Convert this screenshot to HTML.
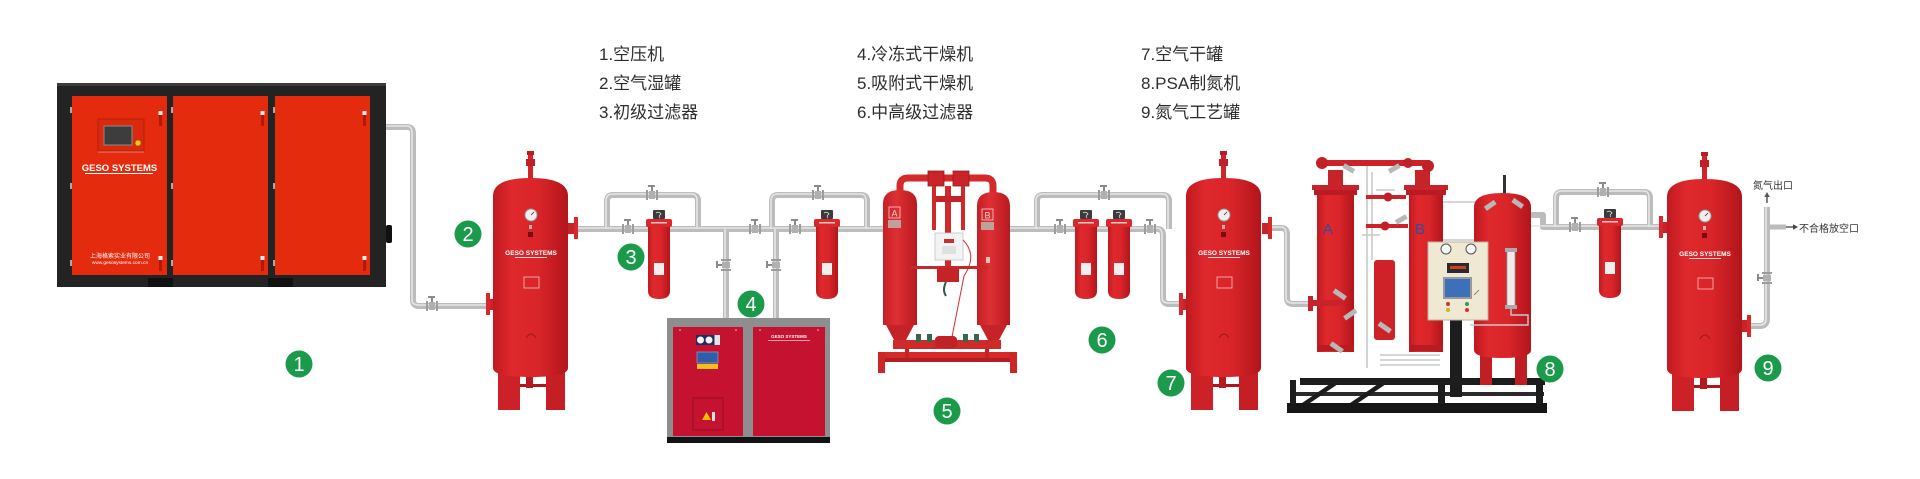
<!DOCTYPE html>
<html>
<head>
<meta charset="utf-8">
<style>
html,body{margin:0;padding:0;background:#fff;width:1920px;height:479px;overflow:hidden}
svg{display:block}
text{font-family:"Liberation Sans","Noto Sans CJK SC",sans-serif;}
</style>
</head>
<body>
<svg width="1920" height="479" viewBox="0 0 1920 479" xmlns="http://www.w3.org/2000/svg">
<defs>
  <linearGradient id="tk" x1="0" x2="1" y1="0" y2="0">
    <stop offset="0" stop-color="#bf1a20"/>
    <stop offset="0.25" stop-color="#de282c"/>
    <stop offset="0.6" stop-color="#d92529"/>
    <stop offset="1" stop-color="#b2151b"/>
  </linearGradient>
  <linearGradient id="tk2" x1="0" x2="1" y1="0" y2="0">
    <stop offset="0" stop-color="#c42026"/>
    <stop offset="0.4" stop-color="#dd3033"/>
    <stop offset="1" stop-color="#b8191f"/>
  </linearGradient>

  <!-- receiver tank, width 75, dome top at y=0 -->
  <g id="tank">
    <rect x="35" y="-25" width="5" height="26" fill="#cf2429"/>
    <rect x="33" y="-19" width="9" height="7" fill="#c21f25"/>
    <rect x="34" y="-27" width="7" height="4" fill="#b81d22"/>
    <rect x="5" y="192" width="22" height="40" fill="#cc2127"/>
    <rect x="53" y="192" width="19" height="40" fill="#c51f25"/>
    <rect x="27" y="206" width="26" height="3" fill="#a9161c"/>
    <rect x="33" y="198" width="7" height="12" fill="#b51a20"/>
    <path d="M0 18 Q0 0 37.5 0 Q75 0 75 18 V190 Q75 199 37.5 199 Q0 199 0 190 Z" fill="url(#tk)"/>
    <circle cx="38" cy="37" r="6" fill="#eee" stroke="#999" stroke-width="1"/>
    <line x1="38" y1="37" x2="41" y2="34" stroke="#333" stroke-width="0.8"/>
    <rect x="36" y="47" width="3" height="4" fill="#f3b0b0"/>
    <rect x="35" y="54" width="5" height="5" fill="#7a0c10"/>
    <text x="38" y="77" font-size="6.5" font-weight="bold" fill="#fff" text-anchor="middle">GESO SYSTEMS</text>
    <rect x="22" y="79" width="32" height="0.8" fill="#fff"/>
    <rect x="31" y="99" width="15" height="11" fill="none" stroke="#f3c0c0" stroke-width="0.8"/>
    <path d="M33 160 Q38 152 43 160" fill="none" stroke="#a0161a" stroke-width="1"/>
  </g>

  <!-- filter, width 26, height 88 -->
  <g id="filt">
    <rect x="7" y="0" width="12" height="9" rx="1" fill="#3b3b3b"/>
    <path d="M10 3 Q13 1 15 4 Q12 6 14 8" fill="none" stroke="#ddd" stroke-width="0.8"/>
    <rect x="0" y="9" width="26" height="8" rx="2" fill="#d9272c"/>
    <rect x="5" y="12" width="16" height="1.5" fill="#f4c8c8"/>
    <path d="M2 17 H24 V81 Q24 89 13 89 Q2 89 2 81 Z" fill="url(#tk)"/>
    <rect x="8" y="53" width="10" height="12" fill="#f4eeee"/>
  </g>

  <!-- inline pipe valve (horizontal pipe) -->
  <g id="vh">
    <rect x="-6" y="-5" width="2" height="10" fill="#9c9c9c"/>
    <rect x="4" y="-5" width="2" height="10" fill="#9c9c9c"/>
    <rect x="-3" y="-4" width="6" height="8" fill="#b0b0b0"/>
    <rect x="-1" y="-9" width="2" height="5" fill="#8a8a8a"/>
    <rect x="-4" y="-10" width="7" height="2" fill="#8a8a8a"/>
  </g>
  <g id="vv">
    <rect x="-5" y="-6" width="10" height="2" fill="#9c9c9c"/>
    <rect x="-5" y="4" width="10" height="2" fill="#9c9c9c"/>
    <rect x="-4" y="-3" width="8" height="6" fill="#b0b0b0"/>
    <rect x="-9" y="-1" width="5" height="2" fill="#8a8a8a"/>
    <rect x="-10" y="-4" width="2" height="7" fill="#8a8a8a"/>
  </g>
</defs>

<!-- ================= PIPES ================= -->
<g fill="none" stroke="#bcbcbc" stroke-width="6" stroke-linejoin="round">
  <path d="M386 127 H407 Q413 127 413 133 V300 Q413 306 419 306 H490"/>
  <path d="M578 229 H886"/>
  <path d="M607 229 V201 Q607 195 613 195 H692 Q698 195 698 201 V229"/>
  <path d="M772 229 V201 Q772 195 778 195 H861 Q867 195 867 201 V229"/>
  <path d="M726 229 V318"/>
  <path d="M776 229 V318"/>
  <path d="M1008 229 H1157 Q1163 229 1163 235 V298 Q1163 304 1169 304 H1180"/>
  <path d="M1037 229 V201 Q1037 195 1043 195 H1163 Q1169 195 1169 201 V229"/>
  <path d="M1270 228 H1281 Q1287 228 1287 234 V298 Q1287 304 1293 304 H1312"/>
  <path d="M1530 215 H1543 V227 H1660"/>
  <path d="M1556 227 V198 Q1556 192 1562 192 H1644 Q1650 192 1650 198 V227"/>
  <path d="M1750 326 H1760 Q1767 326 1767 319 V207"/>
  <path d="M1767 227 H1786" stroke-width="5"/>
</g>
<g fill="none" stroke="#e6e6e6" stroke-width="1.6" stroke-linejoin="round">
  <path d="M386 126 H407 Q412 126 412 133 V300 Q412 305 419 305 H490"/>
  <path d="M578 228 H886"/>
  <path d="M606 229 V201 Q606 194 613 194 H692 Q697 194 697 201 V229"/>
  <path d="M771 229 V201 Q771 194 778 194 H861 Q866 194 866 201 V229"/>
  <path d="M725 229 V318"/>
  <path d="M775 229 V318"/>
  <path d="M1008 228 H1157 Q1162 228 1162 235 V298 Q1162 303 1169 303 H1180"/>
  <path d="M1036 229 V201 Q1036 194 1043 194 H1163 Q1168 194 1168 201 V229"/>
  <path d="M1270 227 H1281 Q1286 227 1286 234 V298 Q1286 303 1293 303 H1312"/>
  <path d="M1530 226 H1660"/>
  <path d="M1555 227 V198 Q1555 191 1562 191 H1644 Q1649 191 1649 198 V227"/>
  <path d="M1750 325 H1760 Q1766 325 1766 319 V207"/>
</g>
<!-- valves -->
<use href="#vh" x="432" y="306"/>
<use href="#vh" x="628" y="229"/>
<use href="#vh" x="652" y="195"/>
<use href="#vh" x="755" y="229"/>
<use href="#vh" x="795" y="229"/>
<use href="#vh" x="818" y="195"/>
<use href="#vv" x="726" y="265"/>
<use href="#vv" x="776" y="265"/>
<use href="#vh" x="1060" y="229"/>
<use href="#vh" x="1104" y="195"/>
<use href="#vh" x="1150" y="229"/>
<use href="#vh" x="1575" y="227"/>
<use href="#vh" x="1603" y="192"/>
<use href="#vv" x="1767" y="278"/>

<!-- arrows & outlet labels -->
<line x1="1786" y1="227" x2="1794" y2="227" stroke="#444" stroke-width="1.3"/>
<polygon points="1798,227 1793,224.3 1793,229.7" fill="#444"/>
<line x1="1767" y1="203" x2="1767" y2="196" stroke="#555" stroke-width="1.5"/>
<polygon points="1767,192 1764.3,197 1769.7,197" fill="#555"/>
<text x="1753" y="189" font-size="10" fill="#333">氮气出口</text>
<text x="1799" y="232" font-size="10" fill="#333">不合格放空口</text>

<!-- ================= COMPRESSOR ================= -->
<rect x="57" y="83" width="329" height="204" fill="#232323"/>
<rect x="57" y="83" width="329" height="3" fill="#3c3c3c"/>
<rect x="72" y="96" width="95" height="179" fill="#e52b0e"/>
<rect x="173" y="96" width="95" height="179" fill="#e52b0e"/>
<rect x="275" y="96" width="95" height="179" fill="#e52b0e"/>
<rect x="148" y="278" width="25" height="9" fill="#111"/>
<rect x="268" y="278" width="25" height="9" fill="#111"/>
<g fill="#aaa">
  <rect x="70" y="107" width="2" height="6"/><rect x="70" y="183" width="2" height="6"/><rect x="70" y="260" width="2" height="6"/>
  <rect x="171" y="107" width="2" height="6"/><rect x="171" y="183" width="2" height="6"/><rect x="171" y="260" width="2" height="6"/>
  <rect x="273" y="107" width="2" height="6"/><rect x="273" y="183" width="2" height="6"/><rect x="273" y="260" width="2" height="6"/>
</g>
<g>
  <rect x="159" y="112" width="3" height="14" fill="#b01a08"/><rect x="158.5" y="111" width="4" height="4" fill="#eee"/>
  <rect x="159" y="257" width="3" height="14" fill="#b01a08"/><rect x="158.5" y="256" width="4" height="4" fill="#eee"/>
  <rect x="261" y="112" width="3" height="14" fill="#b01a08"/><rect x="260.5" y="111" width="4" height="4" fill="#eee"/>
  <rect x="261" y="257" width="3" height="14" fill="#b01a08"/><rect x="260.5" y="256" width="4" height="4" fill="#eee"/>
  <rect x="363" y="112" width="3" height="14" fill="#b01a08"/><rect x="362.5" y="111" width="4" height="4" fill="#eee"/>
  <rect x="363" y="257" width="3" height="14" fill="#b01a08"/><rect x="362.5" y="256" width="4" height="4" fill="#eee"/>
</g>
<rect x="98" y="119" width="46" height="32" fill="#d9290f" stroke="#b51f09" stroke-width="1"/>
<rect x="104" y="126" width="28" height="19" fill="#3d3d3d" stroke="#8a8a8a" stroke-width="1"/>
<circle cx="138" cy="143" r="3" fill="#f2c21a" stroke="#9a5a00" stroke-width="0.6"/>
<line x1="98" y1="152" x2="144" y2="152" stroke="#f5a090" stroke-width="0.8"/>
<text x="119.5" y="171" font-size="9.5" font-weight="bold" fill="#fff" text-anchor="middle">GESO SYSTEMS</text>
<rect x="85" y="173" width="68" height="1" fill="#fff"/>
<text x="120" y="258" font-size="6" fill="#fff" text-anchor="middle">上海格索实业有限公司</text>
<text x="120" y="264" font-size="4.8" fill="#fff" text-anchor="middle">www.gesosystems.com.cn</text>
<rect x="386" y="225" width="6" height="18" rx="2" fill="#111"/>

<!-- ================= TANKS ================= -->
<use href="#tank" x="493" y="178"/>
<rect x="568" y="223" width="7" height="11" fill="#c9232a"/>
<rect x="574" y="217" width="4" height="22" fill="#d8282c"/>
<rect x="486" y="299" width="7" height="11" fill="#c9232a"/>
<rect x="486" y="293" width="4" height="22" fill="#d8282c"/>

<use href="#tank" x="1186" y="178"/>
<rect x="1262" y="223" width="7" height="11" fill="#c9232a"/>
<rect x="1268" y="217" width="4" height="22" fill="#d8282c"/>
<rect x="1179" y="299" width="7" height="11" fill="#c9232a"/>
<rect x="1179" y="293" width="4" height="22" fill="#d8282c"/>

<use href="#tank" x="1667" y="179"/>
<rect x="1660" y="222" width="7" height="11" fill="#c9232a"/>
<rect x="1659" y="216" width="4" height="22" fill="#d8282c"/>
<rect x="1742" y="320" width="7" height="12" fill="#c9232a"/>
<rect x="1747" y="315" width="4" height="22" fill="#d8282c"/>

<!-- ================= FILTERS ================= -->
<use href="#filt" x="646" y="210"/>
<use href="#filt" x="814" y="210"/>
<use href="#filt" x="1073" y="210"/>
<use href="#filt" x="1106" y="210"/>
<use href="#filt" x="1597" y="209"/>

<!-- ================= REFRIGERATED DRYER 4 ================= -->
<rect x="667" y="318" width="163" height="120" fill="#8e8e8e"/>
<rect x="667" y="437" width="163" height="6" fill="#121212"/>
<rect x="673" y="327" width="70" height="109" fill="#c41230"/>
<rect x="753" y="327" width="72" height="109" fill="#c41230"/>
<rect x="696" y="335" width="24" height="10" fill="#1e2f5c"/>
<circle cx="700.5" cy="340" r="3.5" fill="#f2f2f2"/>
<circle cx="709" cy="340" r="3.5" fill="#f2f2f2"/>
<rect x="714.5" y="335" width="5.5" height="10" fill="#dfe4ee"/>
<rect x="697" y="352" width="21" height="11" fill="#2d5fa8" stroke="#8fb0d8" stroke-width="0.6"/>
<rect x="697" y="364" width="21" height="5" fill="#f0c020"/>
<rect x="693" y="398" width="30" height="32" fill="none" stroke="#9a0e22" stroke-width="1"/>
<polygon points="702,420 711,420 706.5,412" fill="#f5c000"/>
<rect x="712" y="412" width="3" height="9" fill="#ddd"/>
<text x="789" y="338" font-size="4.5" font-weight="bold" fill="#fff" text-anchor="middle">GESO SYSTEMS</text>
<rect x="768" y="340" width="42" height="0.6" fill="#fff"/>
<g fill="#f0d0d0"><circle cx="680" cy="330" r="0.8"/><circle cx="736" cy="330" r="0.8"/><circle cx="760" cy="330" r="0.8"/><circle cx="818" cy="330" r="0.8"/></g>

<!-- ================= DESICCANT DRYER 5 ================= -->
<g>
  <!-- frame -->
  <rect x="878" y="352" width="139" height="6" fill="#d42a2a"/>
  <rect x="884" y="358" width="127" height="4" fill="#b41e20"/>
  <rect x="878" y="352" width="7" height="21" fill="#cc2626"/>
  <rect x="1010" y="352" width="7" height="21" fill="#cc2626"/>
  <rect x="905" y="340" width="4" height="18" fill="#c22424"/>
  <rect x="985" y="340" width="4" height="18" fill="#c22424"/>
  <!-- top arch -->
  <path d="M900 196 V186 Q900 178 908 178 H985 Q993 178 993 186 V196" fill="none" stroke="#d42a2a" stroke-width="7"/>
  <rect x="928" y="171" width="16" height="15" fill="#c8242a" stroke="#9c1a1e" stroke-width="0.8"/>
  <rect x="953" y="171" width="16" height="15" fill="#c8242a" stroke="#9c1a1e" stroke-width="0.8"/>
  <rect x="932" y="186" width="4" height="44" fill="#cf2a2a"/>
  <rect x="961" y="186" width="4" height="44" fill="#cf2a2a"/>
  <rect x="945" y="186" width="6" height="90" fill="#d02a2a"/>
  <rect x="936" y="196" width="26" height="6" fill="#c32428"/>
  <!-- tanks -->
  <path d="M883 204 Q883 190 900 190 Q917 190 917 204 V325 H883 Z" fill="url(#tk2)"/>
  <polygon points="886,325 914,325 906,340 894,340" fill="#c42427"/>
  <path d="M977 206 Q977 192 993.5 192 Q1010 192 1010 206 V325 H977 Z" fill="url(#tk2)"/>
  <polygon points="980,325 1007,325 999,340 988,340" fill="#c42427"/>
  <!-- labels -->
  <rect x="889" y="207" width="11" height="11" fill="none" stroke="#f0d0d0" stroke-width="0.8"/>
  <text x="894.5" y="216.5" font-size="9" fill="#f0d0d0" text-anchor="middle">A</text>
  <rect x="888" y="220" width="13" height="8" fill="#c0a099"/>
  <rect x="982" y="209" width="11" height="11" fill="none" stroke="#f0d0d0" stroke-width="0.8"/>
  <text x="987.5" y="218.5" font-size="9" fill="#f0d0d0" text-anchor="middle">B</text>
  <rect x="981" y="222" width="13" height="8" fill="#c0a099"/>
  <rect x="986" y="257" width="4" height="6" fill="#e8c0c0"/>
  <!-- control box -->
  <rect x="935" y="233" width="28" height="27" fill="#f3f3f3" stroke="#c4c4c4" stroke-width="0.8"/>
  <rect x="944" y="239" width="10" height="4" fill="#c83030"/>
  <rect x="942" y="246" width="14" height="8" fill="#e0e0e0"/>
  <path d="M963 240 Q978 255 964 276 L951 342" fill="none" stroke="#d43030" stroke-width="1"/>
  <rect x="910" y="266" width="78" height="3" fill="#c82828"/>
  <rect x="937" y="268" width="22" height="14" fill="#c42428"/>
  <path d="M946 282 Q942 290 946 296" fill="none" stroke="#2f5a40" stroke-width="2"/>
  <!-- bottom manifold -->
  <rect x="893" y="340" width="108" height="9" fill="#cf2a2a"/>
  <rect x="935" y="336" width="22" height="12" rx="4" fill="#c02226"/>
  <g fill="#2f6b4a"><rect x="916" y="334" width="5" height="8"/><rect x="927" y="334" width="5" height="8"/><rect x="963" y="334" width="5" height="8"/><rect x="974" y="334" width="5" height="8"/></g>
</g>

<!-- ================= PSA NITROGEN GENERATOR 8 ================= -->
<g>
  <!-- base frame -->
  <rect x="1300" y="378" width="245" height="7" fill="#1c1c1c"/>
  <rect x="1292" y="392" width="252" height="4" fill="#2a2a2a"/>
  <rect x="1287" y="403" width="260" height="10" fill="#161616"/>
  <polygon points="1330,384 1338,384 1310,403 1302,403" fill="#1c1c1c"/>
  <polygon points="1378,384 1386,384 1358,403 1350,403" fill="#1c1c1c"/>
  <rect x="1438" y="384" width="7" height="20" fill="#1c1c1c"/>
  <rect x="1536" y="384" width="7" height="20" fill="#1c1c1c"/>
  <rect x="1290" y="380" width="6" height="24" fill="#1c1c1c"/>
  <!-- stainless lines -->
  <g fill="none" stroke="#c9c9c9" stroke-width="1.6">
    <path d="M1367 166 V368"/>
    <path d="M1372 172 V260"/>
    <path d="M1362 235 H1380"/>
    <path d="M1376 190 H1395"/>
    <path d="M1427 202 H1480"/>
    <path d="M1380 355 H1440 M1380 360 H1440 M1380 365 H1440"/>
    <path d="M1430 240 H1474"/>
  </g>
  <!-- tank A -->
  <rect x="1328" y="170" width="15" height="16" fill="#c8232a"/>
  <rect x="1312" y="185" width="47" height="5" fill="#c8222a"/>
  <rect x="1314" y="190" width="43" height="5" fill="#b81c22"/>
  <rect x="1317" y="195" width="37" height="157" fill="url(#tk)"/>
  <text x="1328" y="234" font-size="15" font-family="Liberation Serif,serif" fill="#2f4da0" text-anchor="middle">A</text>
  <rect x="1318" y="345" width="36" height="6" fill="#b81c22"/>
  <!-- small tank -->
  <rect x="1374" y="260" width="21" height="80" rx="3" fill="#cf2228"/>
  <!-- tank B -->
  <rect x="1415" y="170" width="15" height="16" fill="#c8232a"/>
  <rect x="1404" y="185" width="44" height="5" fill="#c8222a"/>
  <rect x="1406" y="190" width="40" height="5" fill="#b81c22"/>
  <rect x="1409" y="195" width="34" height="157" fill="url(#tk)"/>
  <text x="1420" y="234" font-size="15" font-family="Liberation Serif,serif" fill="#2f4da0" text-anchor="middle">B</text>
  <rect x="1409" y="345" width="34" height="6" fill="#b81c22"/>
  <!-- top manifold -->
  <rect x="1318" y="160" width="112" height="6" fill="#cc2228"/>
  <circle cx="1322" cy="163" r="6" fill="#c41f26"/>
  <circle cx="1408" cy="163" r="5" fill="#c41f26"/>
  <circle cx="1428" cy="166" r="6" fill="#c41f26"/>
  <rect x="1366" y="195" width="40" height="4" fill="#cc2228"/>
  <circle cx="1388" cy="197" r="4.5" fill="#c41f26"/>
  <rect x="1366" y="224" width="42" height="4" fill="#cc2228"/>
  <circle cx="1385" cy="226" r="4.5" fill="#c41f26"/>
  <rect x="1343" y="166" width="12" height="5" fill="#b8b8b8" transform="rotate(30 1349 168)"/>
  <rect x="1388" y="166" width="12" height="5" fill="#b8b8b8" transform="rotate(-30 1394 168)"/>
  <rect x="1395" y="217" width="12" height="5" fill="#b8b8b8" transform="rotate(-30 1401 219)"/>
  <!-- tank A side inlet -->
  <rect x="1308" y="296" width="5" height="15" fill="#c8222a"/>
  <rect x="1313" y="300" width="30" height="6" fill="#c8222a"/>
  <rect x="1333" y="292" width="14" height="5" fill="#b8b8b8" transform="rotate(35 1340 294)"/>
  <rect x="1343" y="312" width="14" height="5" fill="#b8b8b8" transform="rotate(-35 1350 314)"/>
  <rect x="1378" y="325" width="14" height="5" fill="#b8b8b8" transform="rotate(35 1385 327)"/>
  <rect x="1330" y="345" width="14" height="5" fill="#b8b8b8" transform="rotate(35 1337 347)"/>
  <!-- right buffer tank -->
  <rect x="1503" y="175" width="3" height="20" fill="#333"/>
  <rect x="1480" y="350" width="12" height="35" fill="#c21f25"/>
  <rect x="1515" y="350" width="12" height="35" fill="#bd1d23"/>
  <path d="M1474 207 Q1474 193 1502.5 193 Q1531 193 1531 207 V350 Q1531 358 1502.5 358 Q1474 358 1474 350 Z" fill="url(#tk)"/>
  <rect x="1484" y="203" width="12" height="5" fill="#b8b8b8" transform="rotate(-35 1490 205)"/>
  <rect x="1512" y="201" width="12" height="5" fill="#b8b8b8" transform="rotate(35 1518 203)"/>
  <rect x="1507" y="250" width="8" height="57" fill="#ececec" stroke="#9a9a9a" stroke-width="0.8"/>
  <rect x="1505" y="248" width="12" height="4" fill="#aaa"/>
  <rect x="1505" y="305" width="12" height="4" fill="#aaa"/>
  <path d="M1511 309 V315 H1528 V325 H1470" fill="none" stroke="#c9c9c9" stroke-width="1.4"/>
  <!-- control box post -->
  <rect x="1450" y="320" width="12" height="77" fill="#1d1d1d"/>
  <!-- control box -->
  <rect x="1428" y="242" width="60" height="78" fill="#efe8d3" stroke="#b9b29c" stroke-width="1"/>
  <circle cx="1446" cy="249" r="5" fill="#f6f6f6" stroke="#555" stroke-width="1"/>
  <circle cx="1471" cy="249" r="5" fill="#f6f6f6" stroke="#555" stroke-width="1"/>
  <rect x="1447" y="263" width="22" height="10" fill="#2b2b2b"/>
  <rect x="1450" y="266" width="16" height="3" fill="#d23a2a"/>
  <rect x="1443" y="277" width="29" height="22" fill="#9a9a9a"/>
  <rect x="1445" y="279" width="25" height="18" fill="#3d70b8"/>
  <line x1="1474" y1="295" x2="1479" y2="290" stroke="#666" stroke-width="0.8"/>
  <circle cx="1448" cy="304" r="2" fill="#d83030"/>
  <circle cx="1467" cy="304" r="2" fill="#2aa050"/>
  <circle cx="1448" cy="310" r="2" fill="#e0b020"/>
  <circle cx="1467" cy="310" r="2" fill="#d83030"/>
</g>

<!-- ================= NUMBER BADGES ================= -->
<g fill="#1b9a4b">
  <circle cx="299" cy="364" r="13.5"/>
  <circle cx="468" cy="234" r="13.5"/>
  <circle cx="631" cy="257" r="13.5"/>
  <circle cx="751" cy="304" r="13.5"/>
  <circle cx="947" cy="411" r="13.5"/>
  <circle cx="1102" cy="340" r="13.5"/>
  <circle cx="1171" cy="383" r="13.5"/>
  <circle cx="1550" cy="369" r="13.5"/>
  <circle cx="1768" cy="368" r="13.5"/>
</g>
<g fill="#fff" font-size="20" text-anchor="middle">
  <text x="299" y="371">1</text>
  <text x="468" y="241">2</text>
  <text x="631" y="264">3</text>
  <text x="751" y="311">4</text>
  <text x="947" y="418">5</text>
  <text x="1102" y="347">6</text>
  <text x="1171" y="390">7</text>
  <text x="1550" y="376">8</text>
  <text x="1768" y="375">9</text>
</g>

<!-- ================= LEGEND TEXT ================= -->
<g font-size="17" fill="#2e2e2e">
  <text x="599" y="60">1.空压机</text>
  <text x="599" y="89">2.空气湿罐</text>
  <text x="599" y="118">3.初级过滤器</text>
  <text x="857" y="60">4.冷冻式干燥机</text>
  <text x="857" y="89">5.吸附式干燥机</text>
  <text x="857" y="118">6.中高级过滤器</text>
  <text x="1141" y="60">7.空气干罐</text>
  <text x="1141" y="89">8.PSA制氮机</text>
  <text x="1141" y="118">9.氮气工艺罐</text>
</g>
</svg>
</body>
</html>
